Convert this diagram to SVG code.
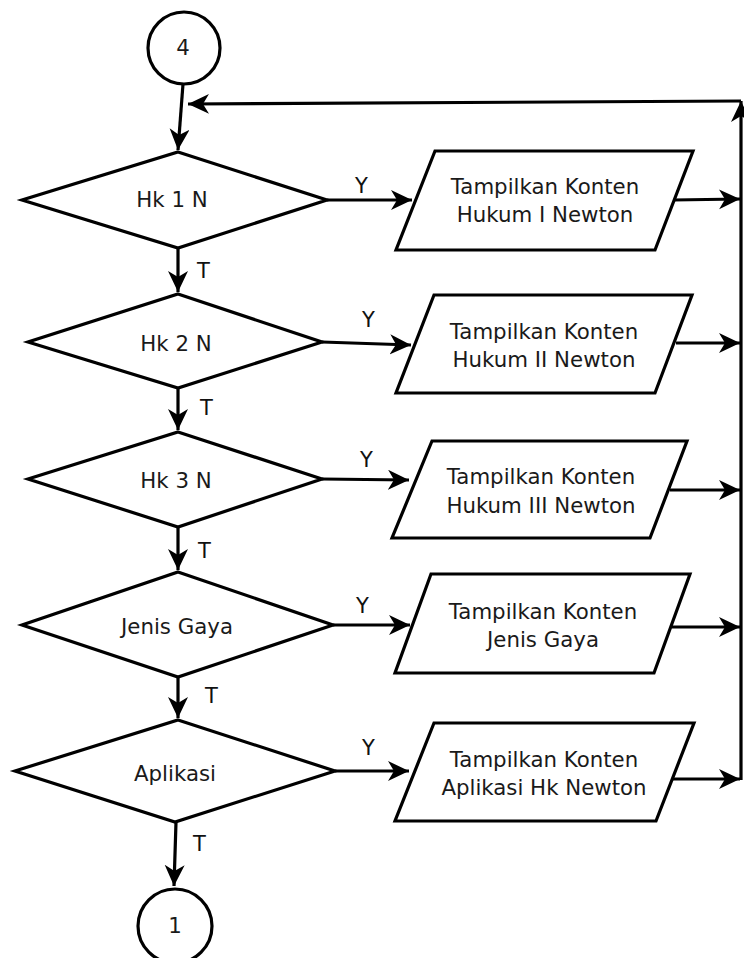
<svg xmlns="http://www.w3.org/2000/svg" width="744" height="958" viewBox="0 0 744 958">
<style>
.s{fill:#fff;stroke:#000;stroke-width:3.2;stroke-linejoin:miter}
.c{fill:none;stroke:#000;stroke-width:3.2}
.t{font-family:"DejaVu Sans",Verdana,sans-serif;font-size:21.3px;fill:#1a1a1a;text-anchor:middle}
.l{font-family:"DejaVu Sans",Verdana,sans-serif;font-size:21px;fill:#111}
</style>
<defs>
<marker id="a" markerUnits="userSpaceOnUse" markerWidth="24" markerHeight="22" refX="21" refY="10" orient="auto">
<path d="M0,0 L21,10 L0,20 L6,10 Z" fill="#000"/>
</marker>
</defs>
<rect width="744" height="958" fill="#fff"/>
<g id="connectors">
<path class="c" d="M183,84 L178,150" marker-end="url(#a)"/>
<path class="c" d="M741,780 L741,101" marker-end="url(#a)"/>
<path class="c" d="M741,101 L188,104" marker-end="url(#a)"/>
<path class="c" d="M327,200 L412,200" marker-end="url(#a)"/>
<path class="c" d="M673,200 L740,199" marker-end="url(#a)"/>
<path class="c" d="M178,248 L178,292" marker-end="url(#a)"/>
<path class="c" d="M322,342 L411,345" marker-end="url(#a)"/>
<path class="c" d="M676,343 L740,343" marker-end="url(#a)"/>
<path class="c" d="M178,388 L178,430" marker-end="url(#a)"/>
<path class="c" d="M322,479 L409,480" marker-end="url(#a)"/>
<path class="c" d="M670,490 L740,490" marker-end="url(#a)"/>
<path class="c" d="M178,527 L178,570" marker-end="url(#a)"/>
<path class="c" d="M333,625 L410,625" marker-end="url(#a)"/>
<path class="c" d="M672,627 L740,627" marker-end="url(#a)"/>
<path class="c" d="M178,677 L178,718" marker-end="url(#a)"/>
<path class="c" d="M335,771 L409,771" marker-end="url(#a)"/>
<path class="c" d="M672,779 L740,779" marker-end="url(#a)"/>
<path class="c" d="M176,822 L174,886" marker-end="url(#a)"/>
<text class="l" x="355" y="193">Y</text>
<text class="l" x="362" y="327">Y</text>
<text class="l" x="360" y="467">Y</text>
<text class="l" x="356" y="613">Y</text>
<text class="l" x="362" y="755">Y</text>
<text class="l" x="197" y="278">T</text>
<text class="l" x="200" y="415">T</text>
<text class="l" x="198" y="558">T</text>
<text class="l" x="205" y="703">T</text>
<text class="l" x="193" y="851">T</text>
</g>
<g id="start4">
<circle class="s" cx="184" cy="48" r="36"/>
<text class="t" x="183" y="55" font-size="18">4</text>
</g>
<g id="d1">
<polygon class="s" points="178,152 327,200 178,248 22,200"/>
<text class="t" x="172" y="207">Hk 1 N</text>
</g>
<g id="p1">
<polygon class="s" points="435,151 693,151 655,250 396,250"/>
<text class="t" x="545" y="194">Tampilkan Konten</text>
<text class="t" x="545" y="222">Hukum I Newton</text>
</g>
<g id="d2">
<polygon class="s" points="178,294 322,342 178,388 28,342"/>
<text class="t" x="176" y="351">Hk 2 N</text>
</g>
<g id="p2">
<polygon class="s" points="434,295 692,295 655,393 396,393"/>
<text class="t" x="544" y="339">Tampilkan Konten</text>
<text class="t" x="544" y="367">Hukum II Newton</text>
</g>
<g id="d3">
<polygon class="s" points="178,432 322,479 178,527 28,479"/>
<text class="t" x="176" y="488">Hk 3 N</text>
</g>
<g id="p3">
<polygon class="s" points="432,441 687,441 650,538 392,538"/>
<text class="t" x="541" y="484">Tampilkan Konten</text>
<text class="t" x="541" y="513">Hukum III Newton</text>
</g>
<g id="d4">
<polygon class="s" points="178,572 333,625 178,677 22,625"/>
<text class="t" x="177" y="634">Jenis Gaya</text>
</g>
<g id="p4">
<polygon class="s" points="431,574 690,574 654,673 395,673"/>
<text class="t" x="543" y="619">Tampilkan Konten</text>
<text class="t" x="543" y="647">Jenis Gaya</text>
</g>
<g id="d5">
<polygon class="s" points="178,720 335,771 175,822 15,771"/>
<text class="t" x="175" y="781">Aplikasi</text>
</g>
<g id="p5">
<polygon class="s" points="434,723 694,723 656,821 395,821"/>
<text class="t" x="544" y="767">Tampilkan Konten</text>
<text class="t" x="544" y="795">Aplikasi Hk Newton</text>
</g>
<g id="end1">
<circle class="s" cx="175" cy="926" r="37"/>
<text class="t" x="175" y="933" font-size="18">1</text>
</g>
</svg>
